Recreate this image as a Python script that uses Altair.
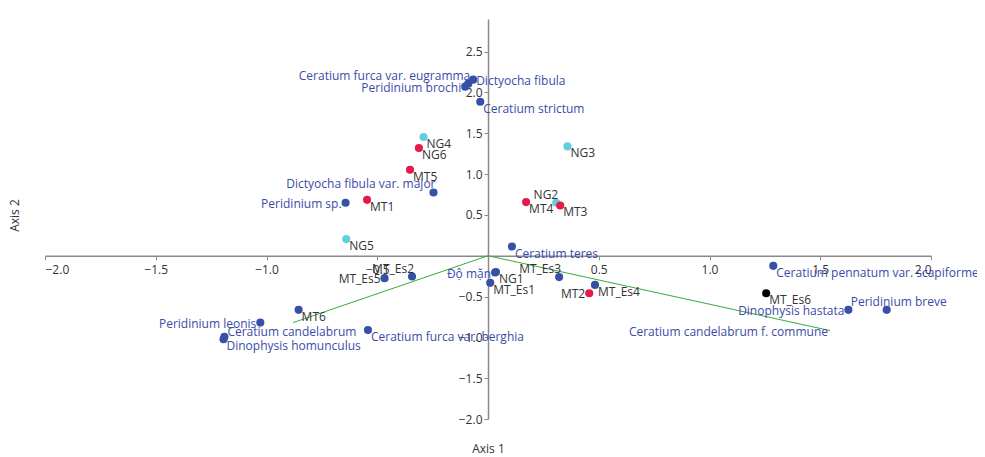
import altair as alt
import pandas as pd

# ---- species / variable scores ----
sp_names = ["Ceratium furca var. eugramma", "Peridinium brochi", "Dictyocha fibula",
            "Ceratium strictum", "Dictyocha fibula var. major", "Peridinium sp.",
            "Ceratium teres", "Độ mặn", "Ceratium pennatum var. scapiforme",
            "Dinophysis hastata", "Peridinium breve", "Peridinium leonis",
            "Ceratium candelabrum", "Dinophysis homunculus", "Ceratium furca var. berghia"]
sp_x = [-0.089, -0.103, -0.067, -0.035, -0.246, -0.643, 0.108, 0.032, 1.288,
        1.627, 1.800, -1.028, -1.190, -1.194, -0.542]
sp_y = [2.108, 2.071, 2.157, 1.887, 0.775, 0.649, 0.113, -0.206, -0.124,
        -0.663, -0.663, -0.819, -0.994, -1.023, -0.909]
sp_anchor = ["ul", "l", "rm", "r", "ul", "l", "r", "l", "r",
             "l", "uc", "l", "ur", "r", "r"]

# ---- site scores ----
site_names = ["NG4", "NG6", "MT5", "NG3", "MT1", "NG5", "NG2", "MT4", "MT3",
              "MT_Es2", "MT_Es5", "NG1", "MT_Es1", "MT_Es3", "MT_Es4", "MT2",
              "MT_Es6", "MT6"]
site_x = [-0.291, -0.312, -0.352, 0.359, -0.546, -0.640, 0.308, 0.172, 0.326,
          -0.343, -0.467, 0.036, 0.010, 0.321, 0.483, 0.457, 1.256, -0.855]
site_y = [1.454, 1.319, 1.053, 1.339, 0.685, 0.204, 0.649, 0.657, 0.616,
          -0.255, -0.275, -0.200, -0.332, -0.262, -0.357, -0.459, -0.459, -0.663]
site_group = ["g2", "g1", "g1", "g2", "g1", "g2", "g2", "g1", "g1",
              "g3", "g3", "g3", "g3", "g3", "g3", "g1", "g4", "g3"]
site_anchor = ["r", "r", "r", "r", "r", "r", "ul", "r", "r",
               "ul", "l", "r", "r", "ul", "r", "l", "r", "r"]

# ---- green vector path ----
vec_x = [-0.880, 0.0, 1.544]
vec_y = [-0.819, 0.0, -0.917]
vec_label = "Ceratium candelabrum f. commune"

x_ticks = [-2.0, -1.5, -1.0, -0.5, 0.0, 0.5, 1.0, 1.5, 2.0]
y_ticks = [-2.0, -1.5, -1.0, -0.5, 0.0, 0.5, 1.0, 1.5, 2.0, 2.5]

BLUE = "#3550a6"
BLUE_TXT = "#3b4ba8"
RED = "#e6194b"
CYAN = "#62cfe0"
BLACK = "#000000"
SITE_TXT = "#333333"
FONT = "Open Sans"

pts = pd.DataFrame({
    "name": sp_names + site_names,
    "x": sp_x + site_x,
    "y": sp_y + site_y,
    "group": ["g3"] * len(sp_names) + site_group,
    "kind": ["species"] * len(sp_names) + ["site"] * len(site_names),
    "anchor": sp_anchor + site_anchor,
    "order": list(range(len(sp_names) + len(site_names))),
})
vec = pd.DataFrame({"x": vec_x, "y": vec_y, "i": [0, 1, 2]})
vlab = pd.DataFrame({"x": [vec_x[2]], "y": [vec_y[2]], "name": [vec_label]})

W, H = 886, 400
XD = [-2.0, 2.0]
YD = [-2.0, 2.9]
x_off = -(W * (0 - XD[0]) / (XD[1] - XD[0]))
y_off = -(H * (0 - YD[0]) / (YD[1] - YD[0]))

lab_expr = "datum.value == 0 ? '' : format(datum.value, '.1f')"

xs = alt.X("x:Q", scale=alt.Scale(domain=XD, nice=False, zero=False),
           axis=alt.Axis(values=x_ticks, labelExpr=lab_expr, offset=y_off, grid=False,
                         labelPadding=5,
                         title="Axis 1", titleY=193, titleX=-x_off, titleBaseline="middle",
                         titleAlign="center", titleFontWeight="normal"))
ys = alt.Y("y:Q", scale=alt.Scale(domain=YD, nice=False, zero=False),
           axis=alt.Axis(values=y_ticks, labelExpr=lab_expr, offset=x_off, grid=False,
                         labelPadding=2,
                         title="Axis 2", titleX=x_off - 31, titleY=196, titleBaseline="middle",
                         titleAlign="center", titleFontWeight="normal"))

line = alt.Chart(vec).mark_line(color="#3aaa3a", strokeWidth=1).encode(
    x=xs, y=ys, order="i:Q")

dots = alt.Chart(pts).mark_point(filled=True, size=66, opacity=1).encode(
    x="x:Q", y="y:Q",
    color=alt.Color("group:N", legend=None,
                    scale=alt.Scale(domain=["g1", "g2", "g3", "g4"],
                                    range=[RED, CYAN, BLUE, BLACK])),
    order="order:Q")

anchors = {
    "r": dict(align="left", dx=3, dy=7),
    "rm": dict(align="left", dx=3, dy=1),
    "l": dict(align="right", dx=-4, dy=1),
    "ul": dict(align="right", dx=2, dy=-8),
    "ur": dict(align="left", dx=3, dy=-5),
    "uc": dict(align="center", dx=12, dy=-8),
}
txt_color = alt.condition(alt.datum.kind == "species", alt.value(BLUE_TXT), alt.value(SITE_TXT))
texts = []
for key, a in anchors.items():
    texts.append(
        alt.Chart(pts).transform_filter(alt.datum.anchor == key)
        .mark_text(font=FONT, fontSize=12, baseline="middle", **a)
        .encode(x="x:Q", y="y:Q", text="name:N", color=txt_color)
    )

vtext = alt.Chart(vlab).mark_text(font=FONT, fontSize=12, align="right", baseline="middle",
                                  dx=-2, dy=1, color=BLUE_TXT).encode(
    x="x:Q", y="y:Q", text="name:N")

chart = alt.layer(line, dots, *texts, vtext).properties(
    width=W, height=H,
    autosize=alt.AutoSizeParams(type="none"),
    padding={"left": 37, "top": 11, "right": 46, "bottom": 38},
).configure_view(stroke=None).configure_axis(
    domainColor="#8a8a8a", domainWidth=1.5, tickColor="#8a8a8a", tickSize=4,
    labelColor="#333333", labelFont=FONT, labelFontSize=12,
    titleColor="#333333", titleFont=FONT, titleFontSize=12,
)

chart.save("out.html", embed_options={"renderer": "svg", "actions": False})
